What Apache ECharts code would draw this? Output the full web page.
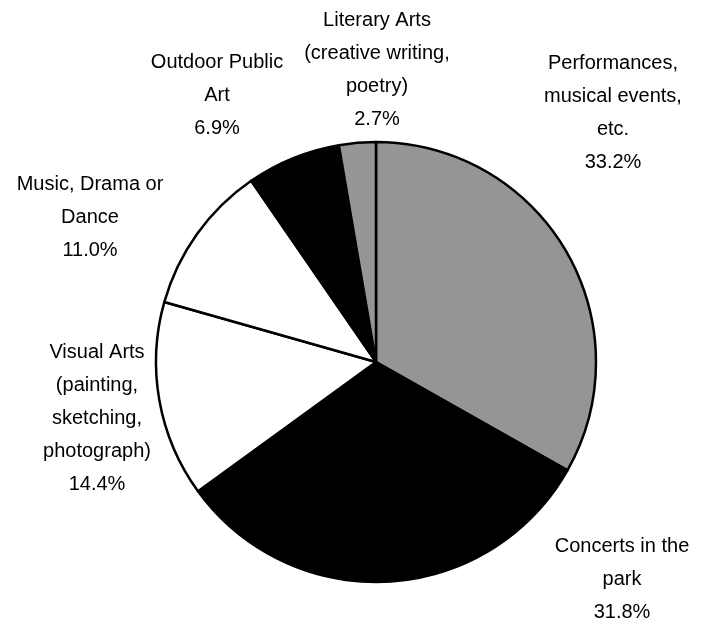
<!DOCTYPE html>
<html>
<head>
<meta charset="utf-8">
<script src="https://cdn.jsdelivr.net/npm/echarts@6/dist/echarts.min.js"></script>
<style>
html,body{margin:0;padding:0;background:#fff;}
#chart{width:702px;height:629px;}
</style>
</head>
<body>
<div id="chart"></div>
<script>
var categories = [
  "Performances,\nmusical events,\netc.",
  "Concerts in the\npark",
  "Visual Arts\n(painting,\nsketching,\nphotograph)",
  "Music, Drama or\nDance",
  "Outdoor Public\nArt",
  "Literary Arts\n(creative writing,\npoetry)"
];
var values = [33.2, 31.8, 14.4, 11.0, 6.9, 2.7];
var sliceColors = ["#959595", "#000000", "#ffffff", "#ffffff", "#000000", "#959595"];
var labelCenters = [[613, 113], [622, 579], [97, 418], [90, 217], [217, 95], [377, 70]];

var chart = echarts.init(document.getElementById('chart'));
chart.setOption({
  backgroundColor: '#ffffff',
  animation: false,
  series: [{
    type: 'pie',
    center: [376, 362],
    radius: 220,
    startAngle: 90,
    clockwise: true,
    avoidLabelOverlap: false,
    data: categories.map(function (c, i) {
      return { name: c, value: values[i], itemStyle: { color: sliceColors[i] } };
    }),
    itemStyle: { borderColor: '#000', borderWidth: 2.5 },
    label: {
      show: true,
      position: 'outside',
      formatter: function (p) { return p.name + '\n' + p.value.toFixed(1) + '%'; },
      fontFamily: '"Liberation Sans", Arial, sans-serif',
      fontSize: 20,
      lineHeight: 33,
      color: '#000',
      align: 'center'
    },
    labelLine: { show: false },
    labelLayout: function (params) {
      var p = labelCenters[params.dataIndex];
      return { x: p[0], y: p[1], align: 'center', verticalAlign: 'middle' };
    },
    emphasis: { disabled: true }
  }]
});
</script>
</body>
</html>
